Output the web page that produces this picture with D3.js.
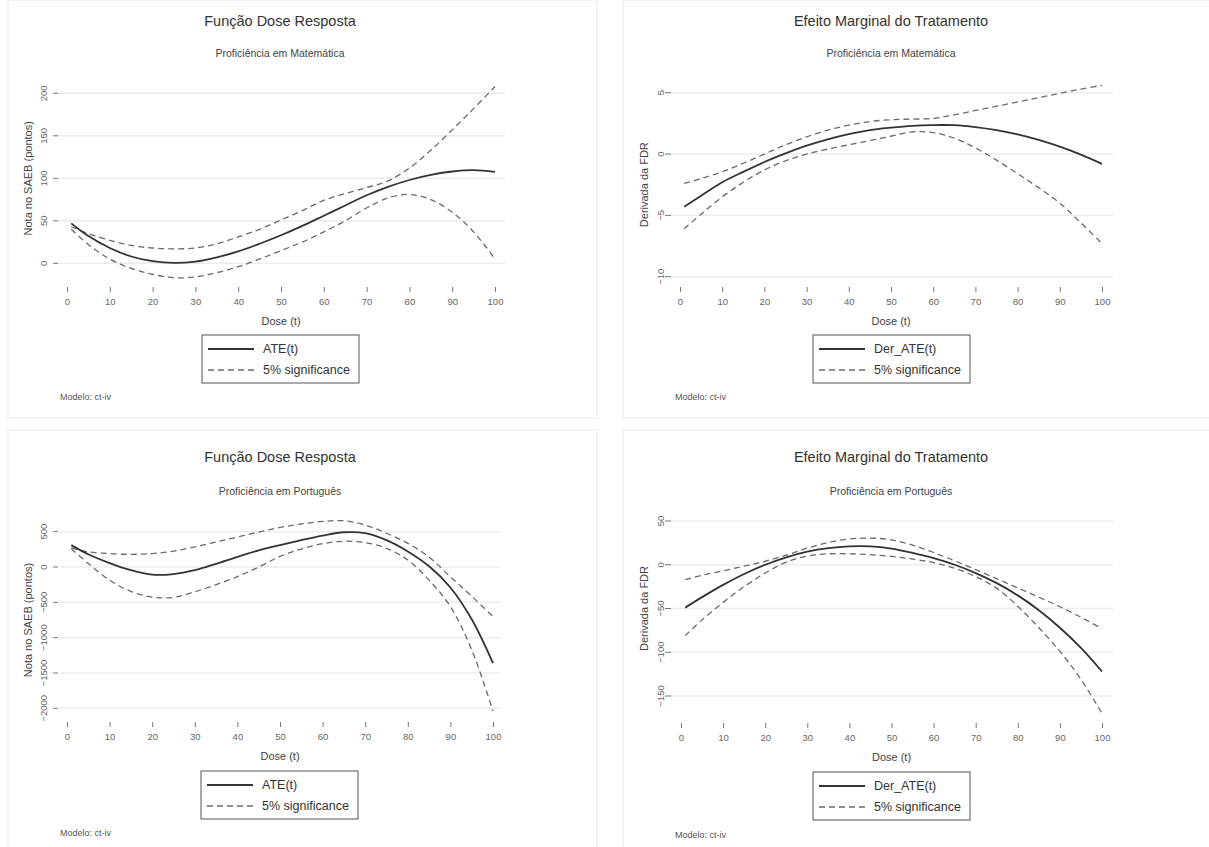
<!DOCTYPE html>
<html lang="pt">
<head>
<meta charset="UTF-8">
<title>Função Dose Resposta / Efeito Marginal do Tratamento</title>
<script src="https://d3js.org/d3.v7.min.js"></script>
<style>
    body {
        margin: 0;
        background: #fff;
        font-family: "Liberation Sans", Arial, sans-serif;
    }
    .frame { fill: #fff; stroke: #efefef; stroke-width: 1.5px; }
    .grid line { stroke: #ececec; stroke-width: 1.5px; }
    .title { font-size: 14.5px; fill: #333; }
    .subtitle { font-size: 10.5px; fill: #444; }
    .tick-label { font-size: 9.5px; fill: #666; }
    .axis-title { font-size: 11px; fill: #444; }
    .legend-text { font-size: 12.5px; fill: #333; }
    .note { font-size: 9px; fill: #555; }
</style>
</head>
<body>
<svg width="1209" height="847"></svg>
<script>
// dose grid (t)
const dose = [1, 5, 10, 15, 20, 25, 30, 35, 40, 45, 50, 55, 60, 65, 70, 75, 80, 85, 90, 95, 100];
const xTicks = [0, 10, 20, 30, 40, 50, 60, 70, 80, 90, 100];

// Matemática - função dose resposta
const mathAte   = [47, 32, 18, 8, 2.5, 0.5, 2, 7, 14, 23, 33, 44, 56, 68, 80, 90, 98, 104, 108, 109.5, 107.5];
const mathUpper = [43, 35, 27, 21, 18, 17, 18, 23, 31, 40, 51, 62, 74, 82, 89, 97, 112, 133, 157, 182, 208];
const mathLower = [40, 22, 5, -6, -13, -17, -16, -11, -4, 5, 15, 25, 37, 50, 65, 77, 81, 75, 60, 37, 5];
const mathTicks = [0, 50, 100, 150, 200];

// Matemática - efeito marginal
const mathDer      = [-4.3, -3.4, -2.3, -1.45, -0.65, 0.05, 0.68, 1.2, 1.62, 1.95, 2.15, 2.3, 2.36, 2.35, 2.2, 1.95, 1.6, 1.15, 0.6, -0.05, -0.8];
const mathDerUpper = [-2.4, -2.0, -1.45, -0.75, 0, 0.75, 1.4, 1.95, 2.35, 2.65, 2.8, 2.85, 2.9, 3.2, 3.55, 3.9, 4.25, 4.6, 4.95, 5.3, 5.6];
const mathDerLower = [-6.1, -4.9, -3.5, -2.3, -1.3, -0.55, 0, 0.4, 0.75, 1.1, 1.45, 1.8, 1.75, 1.3, 0.5, -0.5, -1.6, -2.75, -4.0, -5.6, -7.3];
const mathDerTicks = [-10, -5, 0, 5];

// Português - função dose resposta
const portAte   = [310, 180, 55, -45, -108, -100, -45, 45, 145, 235, 310, 380, 445, 492, 480, 380, 220, 10, -290, -740, -1360];
const portUpper = [270, 215, 190, 180, 190, 225, 285, 355, 425, 495, 560, 610, 645, 655, 595, 478, 335, 140, -138, -415, -700];
const portLower = [260, 50, -185, -345, -425, -430, -350, -250, -135, 0, 150, 255, 330, 365, 345, 265, 100, -185, -560, -1170, -2040];
const portTicks = [-2000, -1500, -1000, -500, 0, 500];

// Português - efeito marginal
const portDer      = [-49, -37, -23, -10.5, 0, 8.5, 15, 19, 21, 21, 18.5, 13.5, 7.5, 0, -9.5, -21, -35, -52, -72, -95, -122];
const portDerUpper = [-17, -12, -7, -1.5, 4, 11, 19, 25.5, 29.5, 30.5, 28.5, 22.5, 14, 4.5, -5.5, -16, -26.5, -37, -48, -60, -73];
const portDerLower = [-81, -63, -43, -25, -9.5, 3, 10, 12.5, 12.5, 11.5, 9.5, 6.5, 2.5, -4, -13.5, -27, -47.5, -72, -99, -131, -170];
const portDerTicks = [-150, -100, -50, 0, 50];

const svg = d3.select("svg");

// frames of the four graphs
const frames = [[8, 0, 589, 418], [623, 0, 590, 418], [8, 430, 589, 420], [623, 430, 590, 420]];
svg.selectAll("rect.frame").data(frames).enter().append("rect")
    .attr("class", "frame")
    .attr("x", d => d[0]).attr("y", d => d[1])
    .attr("width", d => d[2]).attr("height", d => d[3]);

const panels = [
    {
        title: "Função Dose Resposta", subtitle: "Proficiência em Matemática",
        ytitle: "Nota no SAEB (pontos)", label: "ATE(t)",
        est: mathAte, up: mathUpper, lo: mathLower, yTicks: mathTicks,
        x: [67, 495], y: [263.3, 93.3], grid: [58, 505], ytick: [53, 58], ylab: 44, ytl: 28,
        cx: 280, titleY: 21, subY: 53, xtickY: 287, xlabY: 305, xtitleY: 325,
        legend: [202, 335], noteX: 60, noteY: 400
    },
    {
        title: "Efeito Marginal do Tratamento", subtitle: "Proficiência em Matemática",
        ytitle: "Derivada da FDR", label: "Der_ATE(t)",
        est: mathDer, up: mathDerUpper, lo: mathDerLower, yTicks: mathDerTicks,
        x: [680, 1102], y: [276.7, 92.7], grid: [670, 1113], ytick: [665, 671], ylab: 661, ytl: 644,
        cx: 891, titleY: 21, subY: 53, xtickY: 287, xlabY: 305, xtitleY: 325,
        legend: [813, 335], noteX: 675, noteY: 400
    },
    {
        title: "Função Dose Resposta", subtitle: "Proficiência em Português",
        ytitle: "Nota no SAEB (pontos)", label: "ATE(t)",
        est: portAte, up: portUpper, lo: portLower, yTicks: portTicks,
        x: [67, 493], y: [708.3, 531.7], grid: [60, 500], ytick: [53, 58], ylab: 44, ytl: 28,
        cx: 280, titleY: 457, subY: 491, xtickY: 722, xlabY: 740, xtitleY: 760,
        legend: [201, 771], noteX: 60, noteY: 836
    },
    {
        title: "Efeito Marginal do Tratamento", subtitle: "Proficiência em Português",
        ytitle: "Derivada da FDR", label: "Der_ATE(t)",
        est: portDer, up: portDerUpper, lo: portDerLower, yTicks: portDerTicks,
        x: [681, 1102], y: [696, 521], grid: [670, 1113], ytick: [665, 671], ylab: 661, ytl: 644,
        cx: 891, titleY: 457, subY: 491, xtickY: 723, xlabY: 741, xtitleY: 761,
        legend: [813, 772], noteX: 675, noteY: 838
    }
];

panels.forEach(p => {
    const g = svg.append("g");
    const yExt = d3.extent(p.yTicks);

    const x = d3.scaleLinear().domain([0, 100]).range(p.x);
    const y = d3.scaleLinear().domain(yExt).range(p.y);

    // titles
    g.append("text").attr("class", "title")
        .attr("x", p.cx).attr("y", p.titleY).attr("dy", "0.35em")
        .attr("text-anchor", "middle").text(p.title);
    g.append("text").attr("class", "subtitle")
        .attr("x", p.cx).attr("y", p.subY).attr("dy", "0.35em")
        .attr("text-anchor", "middle").text(p.subtitle);

    // horizontal grid lines
    g.append("g").attr("class", "grid")
        .selectAll("line").data(p.yTicks).enter().append("line")
        .attr("x1", p.grid[0]).attr("x2", p.grid[1])
        .attr("y1", d => y(d)).attr("y2", d => y(d));

    // y ticks (stata style, labels rotated)
    g.append("g").selectAll("line").data(p.yTicks).enter().append("line")
        .attr("x1", p.ytick[0]).attr("x2", p.ytick[1])
        .attr("y1", d => y(d)).attr("y2", d => y(d))
        .attr("stroke", "#777").attr("stroke-width", 1);
    g.append("g").selectAll("text").data(p.yTicks).enter().append("text")
        .attr("class", "tick-label")
        .attr("text-anchor", "middle")
        .attr("transform", d => `translate(${p.ylab},${y(d)}) rotate(-90)`)
        .attr("dy", "0.35em")
        .text(d => d3.format("d")(d));

    g.append("text").attr("class", "axis-title")
        .attr("text-anchor", "middle")
        .attr("transform", `translate(${p.ytl},${(p.y[0] + p.y[1]) / 2}) rotate(-90)`)
        .attr("dy", "0.35em")
        .text(p.ytitle);

    // x axis via d3.axisBottom, then restyled
    const xa = g.append("g")
        .attr("transform", `translate(0,${p.xtickY})`)
        .call(d3.axisBottom(x).tickValues(xTicks).tickSize(5).tickPadding(4));
    xa.select(".domain").remove();
    xa.selectAll(".tick line").attr("stroke", "#777");
    xa.selectAll(".tick text").attr("class", "tick-label")
        .attr("font-family", null).attr("font-size", null).attr("fill", null)
        .attr("y", p.xlabY - p.xtickY).attr("dy", "0");

    g.append("text").attr("class", "axis-title")
        .attr("x", (p.x[0] + p.x[1]) / 2).attr("y", p.xtitleY)
        .attr("text-anchor", "middle").text("Dose (t)");

    // curves
    const line = d3.line()
        .x((d, i) => x(dose[i]))
        .y(d => y(d))
        .curve(d3.curveCatmullRom.alpha(0.5));

    [p.up, p.lo].forEach(s => {
        g.append("path").attr("d", line(s))
            .attr("fill", "none").attr("stroke", "#6a6a6a")
            .attr("stroke-width", 1.3).attr("stroke-dasharray", "6,4");
    });
    g.append("path").attr("d", line(p.est))
        .attr("fill", "none").attr("stroke", "#333")
        .attr("stroke-width", 1.8);

    // legend
    const [lx, ly] = p.legend;
    const lw = 157, lh = 48;
    g.append("rect").attr("x", lx).attr("y", ly).attr("width", lw).attr("height", lh)
        .attr("fill", "#fff").attr("stroke", "#555").attr("stroke-width", 1);
    g.append("line").attr("x1", lx + 6).attr("x2", lx + 52)
        .attr("y1", ly + 14).attr("y2", ly + 14)
        .attr("stroke", "#333").attr("stroke-width", 1.8);
    g.append("line").attr("x1", lx + 6).attr("x2", lx + 52)
        .attr("y1", ly + 35).attr("y2", ly + 35)
        .attr("stroke", "#6a6a6a").attr("stroke-width", 1.3).attr("stroke-dasharray", "6,4");
    g.append("text").attr("class", "legend-text")
        .attr("x", lx + 61).attr("y", ly + 14).attr("dy", "0.35em").text(p.label);
    g.append("text").attr("class", "legend-text")
        .attr("x", lx + 61).attr("y", ly + 35).attr("dy", "0.35em").text("5% significance");

    g.append("text").attr("class", "note")
        .attr("x", p.noteX).attr("y", p.noteY).text("Modelo: ct-iv");
});
</script>
</body>
</html>
